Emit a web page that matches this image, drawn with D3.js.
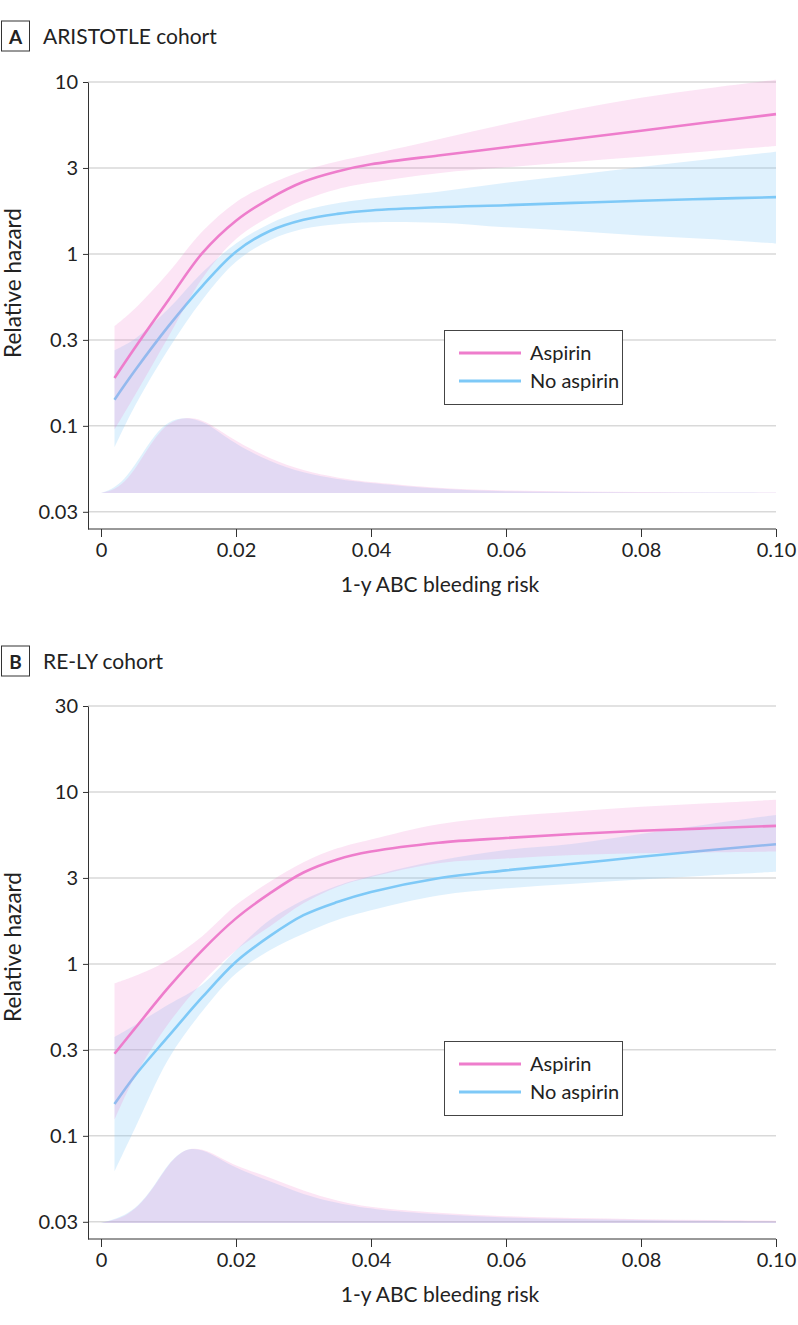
<!DOCTYPE html>
<html>
<head>
<meta charset="utf-8">
<title>Relative hazard by 1-y ABC bleeding risk</title>
<script src="https://cdn.jsdelivr.net/npm/d3@7"></script>
<style>
  body { margin: 0; background: #fff; }
  svg text { font-family: Lato, "Open Sans", sans-serif; fill: #222; }
</style>
</head>
<body>
<div id="chart"></div>
<script>
// ---- data ----
const seriesNames = ["Aspirin", "No aspirin"];
const xTicks = [0, 0.02, 0.04, 0.06, 0.08, 0.1];
const xTickLabels = ["0", "0.02", "0.04", "0.06", "0.08", "0.10"];
// ticks sit on half decades, labelled rounded
const yExpA = [1, 0.5, 0, -0.5, -1, -1.5];
const yTickLabelsA = ["10", "3", "1", "0.3", "0.1", "0.03"];
const yExpB = [1.5, 1, 0.5, 0, -0.5, -1, -1.5];
const yTickLabelsB = ["30", "10", "3", "1", "0.3", "0.1", "0.03"];

const riskX = [0.002, 0.005, 0.01, 0.015, 0.02, 0.025, 0.03, 0.035, 0.04, 0.05, 0.06, 0.07, 0.08, 0.09, 0.1];

// panel A: ARISTOTLE
const aAsp   = [0.19, 0.284, 0.54, 1.01, 1.56, 2.1, 2.63, 3.02, 3.32, 3.74, 4.17, 4.66, 5.21, 5.83, 6.5];
const aAspHi = [0.38, 0.48, 0.78, 1.35, 2.0, 2.55, 3.05, 3.45, 3.8, 4.65, 5.7, 6.9, 8.1, 9.2, 10.3];
const aAspLo = [0.095, 0.15, 0.33, 0.72, 1.22, 1.65, 2.05, 2.38, 2.6, 2.95, 3.19, 3.43, 3.68, 3.95, 4.24];
const aNo    = [0.142, 0.209, 0.38, 0.65, 1.03, 1.36, 1.58, 1.71, 1.79, 1.87, 1.92, 1.98, 2.04, 2.09, 2.14];
const aNoHi  = [0.275, 0.32, 0.48, 0.78, 1.15, 1.5, 1.78, 1.97, 2.1, 2.3, 2.59, 2.88, 3.2, 3.55, 3.93];
const aNoLo  = [0.075, 0.13, 0.28, 0.54, 0.9, 1.2, 1.4, 1.49, 1.53, 1.52, 1.43, 1.36, 1.28, 1.22, 1.15];

// panel B: RE-LY
const bAsp   = [0.3, 0.42, 0.73, 1.2, 1.84, 2.57, 3.4, 4.05, 4.5, 5.07, 5.4, 5.7, 5.95, 6.15, 6.35];
const bAspHi = [0.77, 0.85, 1.05, 1.45, 2.2, 3.0, 3.9, 4.7, 5.3, 6.5, 7.2, 7.7, 8.2, 8.6, 9.0];
const bAspLo = [0.124, 0.22, 0.45, 0.78, 1.2, 1.65, 2.25, 2.8, 3.2, 3.85, 4.1, 4.3, 4.4, 4.45, 4.5];
const bNo    = [0.153, 0.223, 0.38, 0.64, 1.03, 1.45, 1.92, 2.29, 2.62, 3.15, 3.5, 3.82, 4.2, 4.58, 4.97];
const bNoHi  = [0.376, 0.44, 0.58, 0.76, 1.2, 1.8, 2.35, 2.85, 3.25, 4.0, 4.6, 5.0, 5.7, 6.5, 7.35];
const bNoLo  = [0.062, 0.11, 0.28, 0.53, 0.88, 1.2, 1.5, 1.8, 2.05, 2.5, 2.75, 2.93, 3.1, 3.27, 3.43];

// distribution of risk (relative density, peak = 1)
const densX = [0, 0.002, 0.004, 0.006, 0.008, 0.01, 0.0125, 0.015, 0.0175, 0.02, 0.025, 0.03, 0.035, 0.04, 0.05, 0.06, 0.07, 0.08, 0.09, 0.1];
const aDensAsp = [0, 0.04, 0.18, 0.45, 0.73, 0.93, 1.0, 0.97, 0.83, 0.68, 0.45, 0.29, 0.2, 0.14, 0.06, 0.03, 0.018, 0.012, 0.008, 0.005];
const aDensNo  = [0, 0.06, 0.23, 0.5, 0.77, 0.95, 1.0, 0.95, 0.8, 0.64, 0.41, 0.26, 0.18, 0.13, 0.05, 0.02, 0.012, 0.008, 0.005, 0.003];
const bDensAsp = [0, 0.04, 0.11, 0.26, 0.49, 0.78, 0.99, 0.98, 0.87, 0.75, 0.6, 0.42, 0.29, 0.2, 0.13, 0.085, 0.065, 0.05, 0.04, 0.03];
const bDensNo  = [0, 0.05, 0.12, 0.27, 0.5, 0.79, 0.99, 0.97, 0.85, 0.72, 0.55, 0.37, 0.26, 0.18, 0.11, 0.07, 0.05, 0.04, 0.03, 0.02];

const pink = "#ee7dcc", blue = "#7ec9f7";

const svg = d3.select("#chart").append("svg")
    .attr("width", 798).attr("height", 1325);

const x = d3.scaleLinear().domain([0, 0.1]).range([101, 776]);
const smooth = d3.curveCatmullRom.alpha(0.5);

function drawPanel(p) {
  const g = svg.append("g");
  const y = d3.scaleLog().domain(p.yDomain).range([p.bottom, p.top]);
  const dens = d3.scaleLinear().domain([0, 1]).range([p.densBase, p.densBase - 76]);
  const yTicks = p.yExp.map(e => Math.pow(10, e));

  // panel letter + title
  g.append("rect").attr("x", 1.5).attr("y", p.titleY - 23).attr("width", 28).attr("height", 30)
    .attr("fill", "none").attr("stroke", "#333").attr("stroke-width", 1);
  g.append("text").attr("x", 15.5).attr("y", p.titleY).attr("text-anchor", "middle")
    .attr("font-size", 19).attr("font-weight", "bold").text(p.letter);
  g.append("text").attr("x", 43).attr("y", p.titleY).attr("font-size", 21).text(p.title);

  // grid
  g.append("g").selectAll("line").data(yTicks).join("line")
    .attr("x1", 88).attr("x2", 776)
    .attr("y1", d => y(d)).attr("y2", d => y(d))
    .attr("stroke", "#d9d9d9").attr("stroke-width", 1.5);

  // density of risk
  const densArea = vals => d3.area()
    .x((d, i) => x(densX[i])).y0(p.densBase).y1((d, i) => dens(vals[i]))
    .curve(d3.curveBasis)(vals);
  g.append("path").attr("d", densArea(p.densNo)).attr("fill", blue).attr("fill-opacity", 0.25);
  g.append("path").attr("d", densArea(p.densAsp)).attr("fill", pink).attr("fill-opacity", 0.2);

  // bands + lines
  const band = (lo, hi) => d3.area()
    .x((d, i) => x(riskX[i])).y0((d, i) => y(lo[i])).y1((d, i) => y(hi[i]))
    .curve(smooth)(lo);
  const line = vals => d3.line()
    .x((d, i) => x(riskX[i])).y(d => y(d))
    .curve(smooth)(vals);

  g.append("path").attr("d", band(p.noLo, p.noHi)).attr("fill", blue).attr("fill-opacity", 0.25);
  g.append("path").attr("d", line(p.no)).attr("fill", "none").attr("stroke", blue).attr("stroke-width", 2.6);
  g.append("path").attr("d", band(p.aspLo, p.aspHi)).attr("fill", pink).attr("fill-opacity", 0.2);
  g.append("path").attr("d", line(p.asp)).attr("fill", "none").attr("stroke", pink).attr("stroke-width", 2.6);

  // y axis
  const yAxis = d3.axisLeft(y).tickValues(yTicks)
    .tickFormat((d, i) => p.yLabels[i]).tickSize(5).tickSizeOuter(0).tickPadding(5);
  g.append("g").attr("transform", "translate(88,0)").call(yAxis)
    .call(a => a.selectAll("path, line").attr("stroke", "#333"))
    .call(a => a.selectAll("text").attr("font-size", 20).attr("font-family", null).attr("fill", "#222"));

  // x axis
  const xAxis = d3.axisBottom(x).tickValues(xTicks)
    .tickFormat((d, i) => xTickLabels[i]).tickSize(8).tickSizeOuter(0).tickPadding(6);
  g.append("g").attr("transform", `translate(0,${p.bottom})`).call(xAxis)
    .call(a => a.select(".domain").remove())
    .call(a => a.selectAll("line").attr("stroke", "#333"))
    .call(a => a.selectAll("text").attr("font-size", 20).attr("font-family", null).attr("fill", "#222"));
  g.append("line").attr("x1", 88).attr("x2", 776).attr("y1", p.bottom).attr("y2", p.bottom)
    .attr("stroke", "#333").attr("stroke-width", 1);

  // axis titles
  g.append("text").attr("x", 440).attr("y", p.bottom + 63).attr("text-anchor", "middle")
    .attr("font-size", 21).text("1-y ABC bleeding risk");
  g.append("text").attr("transform", `translate(21,${p.yTitleY}) rotate(-90)`)
    .attr("text-anchor", "middle").attr("font-size", 22.5).text("Relative hazard");

  // legend
  const lg = g.append("g").attr("transform", `translate(444,${p.legendY})`);
  lg.append("rect").attr("x", 0.5).attr("y", 0.5).attr("width", 178).attr("height", 74)
    .attr("fill", "#fff").attr("stroke", "#444").attr("stroke-width", 1);
  const items = lg.selectAll("g").data(seriesNames).join("g")
    .attr("transform", (d, i) => `translate(0,${23 + i * 28})`);
  items.append("line").attr("x1", 15).attr("x2", 77)
    .attr("stroke", (d, i) => i === 0 ? pink : blue).attr("stroke-width", 3);
  items.append("text").attr("x", 86).attr("dy", "0.35em").attr("font-size", 20).text(d => d);
}

drawPanel({
  letter: "A", title: "ARISTOTLE cohort", titleY: 44,
  yDomain: [Math.pow(10, -1.6), 10], top: 82, bottom: 529, yExp: yExpA, yLabels: yTickLabelsA,
  densBase: 493, yTitleY: 283, legendY: 330,
  asp: aAsp, aspHi: aAspHi, aspLo: aAspLo, no: aNo, noHi: aNoHi, noLo: aNoLo,
  densAsp: aDensAsp, densNo: aDensNo
});

drawPanel({
  letter: "B", title: "RE-LY cohort", titleY: 669,
  yDomain: [Math.pow(10, -1.6), Math.pow(10, 1.5)], top: 706, bottom: 1239, yExp: yExpB, yLabels: yTickLabelsB,
  densBase: 1223, yTitleY: 947, legendY: 1041,
  asp: bAsp, aspHi: bAspHi, aspLo: bAspLo, no: bNo, noHi: bNoHi, noLo: bNoLo,
  densAsp: bDensAsp, densNo: bDensNo
});
</script>
</body>
</html>
